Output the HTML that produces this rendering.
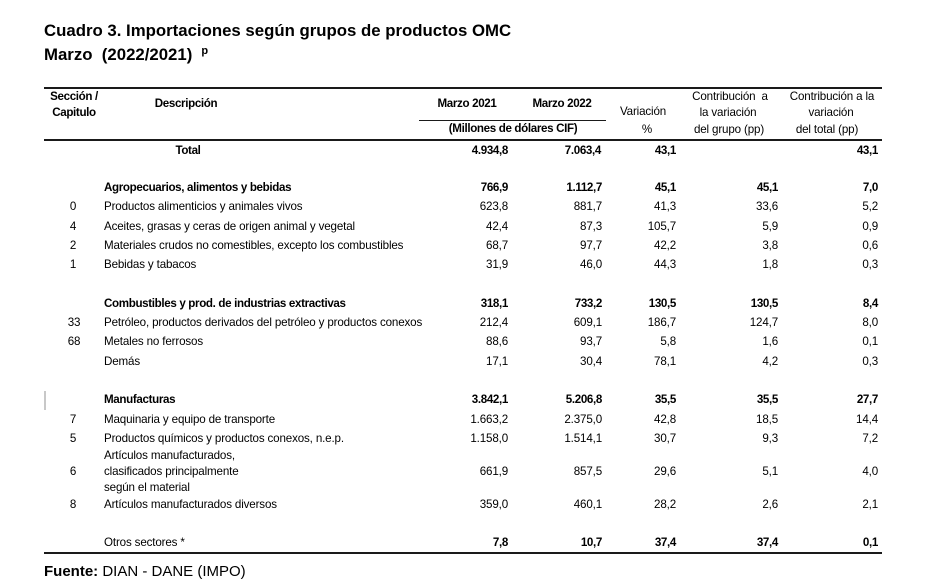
<!DOCTYPE html>
<html>
<head>
<meta charset="utf-8">
<style>
html,body{margin:0;padding:0;background:#fff;}
body{width:937px;height:587px;position:relative;overflow:hidden;}
.t{position:absolute;font-family:"Liberation Sans",Arial,sans-serif;font-size:11.6px;letter-spacing:-0.15px;line-height:14px;white-space:nowrap;color:#000;}
.b{font-weight:bold;letter-spacing:-0.35px;}
.c{width:200px;text-align:center;}
.r{text-align:right;}
.ln{position:absolute;background:#1a1a1a;}
.ttl{position:absolute;left:44px;font-family:"Liberation Sans",Arial,sans-serif;font-weight:bold;font-size:16.8px;line-height:20px;color:#000;white-space:nowrap;}
</style>
</head>
<body>
<div class="ttl" style="top:21px;">Cuadro 3. Importaciones según grupos de productos OMC</div>
<div class="ttl" style="top:45px;">Marzo&nbsp; (2022/2021)<span style="font-size:11px;position:relative;top:-6px;margin-left:9px;">p</span></div>

<div class="ln" style="left:44px;width:838px;top:87px;height:2px;"></div>
<div class="ln" style="left:419px;width:187px;top:120px;height:1px;"></div>
<div class="ln" style="left:44px;width:838px;top:139px;height:2px;"></div>
<div class="ln" style="left:44px;width:838px;top:552px;height:2px;"></div>
<div style="position:absolute;left:44px;top:391px;width:2px;height:19px;background:#c8c8c8;"></div>

<!-- header -->
<div class="t b c" style="left:-26px;top:90px;">Sección /</div>
<div class="t b c" style="left:-26px;top:106px;">Capitulo</div>
<div class="t b c" style="left:86px;top:97px;">Descripción</div>
<div class="t b c" style="left:367px;top:97px;">Marzo 2021</div>
<div class="t b c" style="left:462px;top:97px;">Marzo 2022</div>
<div class="t b c" style="left:413px;top:122px;">(Millones de dólares CIF)</div>
<div class="t c" style="left:543px;top:105px;">Variación</div>
<div class="t c" style="left:547px;top:123px;">%</div>
<div class="t c" style="left:630px;top:90px;">Contribución &nbsp;a</div>
<div class="t c" style="left:628px;top:106px;">la variación</div>
<div class="t c" style="left:629px;top:123px;">del grupo (pp)</div>
<div class="t c" style="left:732px;top:90px;">Contribución a la</div>
<div class="t c" style="left:731px;top:106px;">variación</div>
<div class="t c" style="left:727px;top:123px;">del total (pp)</div>

<!-- Total -->
<div class="t b c" style="left:88px;top:144px;">Total</div>
<div class="t b r" style="right:429px;top:144px;">4.934,8</div>
<div class="t b r" style="right:336px;top:144px;">7.063,4</div>
<div class="t b r" style="right:261px;top:144px;">43,1</div>
<div class="t b r" style="right:59px;top:144px;">43,1</div>

<!-- Agro -->
<div class="t b" style="left:104px;top:181px;">Agropecuarios, alimentos y bebidas</div>
<div class="t b r" style="right:429px;top:181px;">766,9</div>
<div class="t b r" style="right:335px;top:181px;">1.112,7</div>
<div class="t b r" style="right:261px;top:181px;">45,1</div>
<div class="t b r" style="right:159px;top:181px;">45,1</div>
<div class="t b r" style="right:59px;top:181px;">7,0</div>

<div class="t c" style="left:-27px;top:200px;">0</div>
<div class="t" style="left:104px;top:200px;">Productos alimenticios y animales vivos</div>
<div class="t r" style="right:429px;top:200px;">623,8</div>
<div class="t r" style="right:335px;top:200px;">881,7</div>
<div class="t r" style="right:261px;top:200px;">41,3</div>
<div class="t r" style="right:159px;top:200px;">33,6</div>
<div class="t r" style="right:59px;top:200px;">5,2</div>

<div class="t c" style="left:-27px;top:220px;">4</div>
<div class="t" style="left:104px;top:220px;">Aceites, grasas y ceras de origen animal y vegetal</div>
<div class="t r" style="right:429px;top:220px;">42,4</div>
<div class="t r" style="right:335px;top:220px;">87,3</div>
<div class="t r" style="right:261px;top:220px;">105,7</div>
<div class="t r" style="right:159px;top:220px;">5,9</div>
<div class="t r" style="right:59px;top:220px;">0,9</div>

<div class="t c" style="left:-27px;top:239px;">2</div>
<div class="t" style="left:104px;top:239px;">Materiales crudos no comestibles, excepto los combustibles</div>
<div class="t r" style="right:429px;top:239px;">68,7</div>
<div class="t r" style="right:335px;top:239px;">97,7</div>
<div class="t r" style="right:261px;top:239px;">42,2</div>
<div class="t r" style="right:159px;top:239px;">3,8</div>
<div class="t r" style="right:59px;top:239px;">0,6</div>

<div class="t c" style="left:-27px;top:258px;">1</div>
<div class="t" style="left:104px;top:258px;">Bebidas y tabacos</div>
<div class="t r" style="right:429px;top:258px;">31,9</div>
<div class="t r" style="right:335px;top:258px;">46,0</div>
<div class="t r" style="right:261px;top:258px;">44,3</div>
<div class="t r" style="right:159px;top:258px;">1,8</div>
<div class="t r" style="right:59px;top:258px;">0,3</div>

<!-- Combustibles -->
<div class="t b" style="left:104px;top:297px;">Combustibles y prod. de industrias extractivas</div>
<div class="t b r" style="right:429px;top:297px;">318,1</div>
<div class="t b r" style="right:335px;top:297px;">733,2</div>
<div class="t b r" style="right:261px;top:297px;">130,5</div>
<div class="t b r" style="right:159px;top:297px;">130,5</div>
<div class="t b r" style="right:59px;top:297px;">8,4</div>

<div class="t c" style="left:-26px;top:316px;">33</div>
<div class="t" style="left:104px;top:316px;">Petróleo, productos derivados del petróleo y productos conexos</div>
<div class="t r" style="right:429px;top:316px;">212,4</div>
<div class="t r" style="right:335px;top:316px;">609,1</div>
<div class="t r" style="right:261px;top:316px;">186,7</div>
<div class="t r" style="right:159px;top:316px;">124,7</div>
<div class="t r" style="right:59px;top:316px;">8,0</div>

<div class="t c" style="left:-26px;top:335px;">68</div>
<div class="t" style="left:104px;top:335px;">Metales no ferrosos</div>
<div class="t r" style="right:429px;top:335px;">88,6</div>
<div class="t r" style="right:335px;top:335px;">93,7</div>
<div class="t r" style="right:261px;top:335px;">5,8</div>
<div class="t r" style="right:159px;top:335px;">1,6</div>
<div class="t r" style="right:59px;top:335px;">0,1</div>

<div class="t" style="left:104px;top:355px;">Demás</div>
<div class="t r" style="right:429px;top:355px;">17,1</div>
<div class="t r" style="right:335px;top:355px;">30,4</div>
<div class="t r" style="right:261px;top:355px;">78,1</div>
<div class="t r" style="right:159px;top:355px;">4,2</div>
<div class="t r" style="right:59px;top:355px;">0,3</div>

<!-- Manufacturas -->
<div class="t b" style="left:104px;top:393px;">Manufacturas</div>
<div class="t b r" style="right:429px;top:393px;">3.842,1</div>
<div class="t b r" style="right:335px;top:393px;">5.206,8</div>
<div class="t b r" style="right:261px;top:393px;">35,5</div>
<div class="t b r" style="right:159px;top:393px;">35,5</div>
<div class="t b r" style="right:59px;top:393px;">27,7</div>

<div class="t c" style="left:-27px;top:413px;">7</div>
<div class="t" style="left:104px;top:413px;">Maquinaria y equipo de transporte</div>
<div class="t r" style="right:429px;top:413px;">1.663,2</div>
<div class="t r" style="right:335px;top:413px;">2.375,0</div>
<div class="t r" style="right:261px;top:413px;">42,8</div>
<div class="t r" style="right:159px;top:413px;">18,5</div>
<div class="t r" style="right:59px;top:413px;">14,4</div>

<div class="t c" style="left:-27px;top:432px;">5</div>
<div class="t" style="left:104px;top:432px;">Productos químicos y productos conexos, n.e.p.</div>
<div class="t r" style="right:429px;top:432px;">1.158,0</div>
<div class="t r" style="right:335px;top:432px;">1.514,1</div>
<div class="t r" style="right:261px;top:432px;">30,7</div>
<div class="t r" style="right:159px;top:432px;">9,3</div>
<div class="t r" style="right:59px;top:432px;">7,2</div>

<div class="t" style="left:104px;top:449px;">Artículos manufacturados,</div>
<div class="t c" style="left:-27px;top:465px;">6</div>
<div class="t" style="left:104px;top:465px;">clasificados principalmente</div>
<div class="t" style="left:104px;top:481px;">según el material</div>
<div class="t r" style="right:429px;top:465px;">661,9</div>
<div class="t r" style="right:335px;top:465px;">857,5</div>
<div class="t r" style="right:261px;top:465px;">29,6</div>
<div class="t r" style="right:159px;top:465px;">5,1</div>
<div class="t r" style="right:59px;top:465px;">4,0</div>

<div class="t c" style="left:-27px;top:498px;">8</div>
<div class="t" style="left:104px;top:498px;">Artículos manufacturados diversos</div>
<div class="t r" style="right:429px;top:498px;">359,0</div>
<div class="t r" style="right:335px;top:498px;">460,1</div>
<div class="t r" style="right:261px;top:498px;">28,2</div>
<div class="t r" style="right:159px;top:498px;">2,6</div>
<div class="t r" style="right:59px;top:498px;">2,1</div>

<!-- Otros -->
<div class="t" style="left:104px;top:536px;">Otros sectores *</div>
<div class="t b r" style="right:429px;top:536px;">7,8</div>
<div class="t b r" style="right:335px;top:536px;">10,7</div>
<div class="t b r" style="right:261px;top:536px;">37,4</div>
<div class="t b r" style="right:159px;top:536px;">37,4</div>
<div class="t b r" style="right:59px;top:536px;">0,1</div>

<div style="position:absolute;left:44px;top:563px;font-family:'Liberation Sans',Arial,sans-serif;font-size:15px;line-height:18px;color:#000;white-space:nowrap;"><b>Fuente:</b> DIAN - DANE (IMPO)</div>
</body>
</html>
